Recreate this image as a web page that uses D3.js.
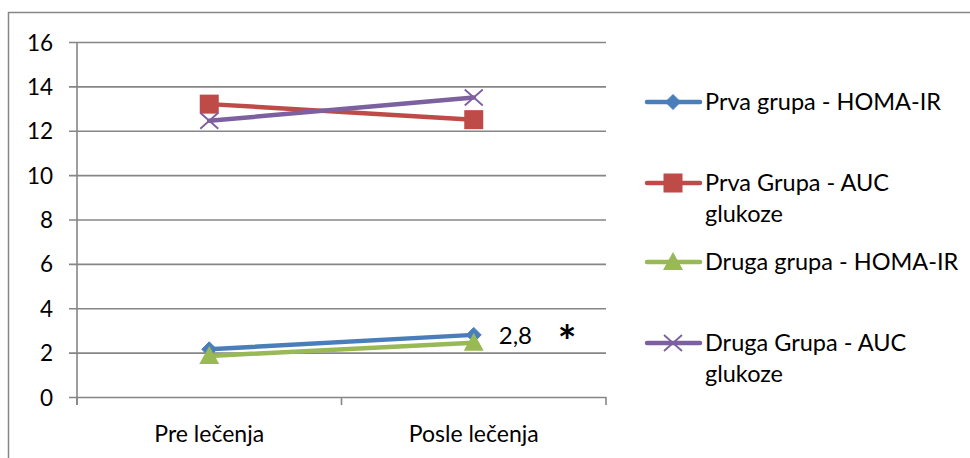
<!DOCTYPE html>
<html>
<head>
<meta charset="utf-8">
<script src="https://cdn.jsdelivr.net/npm/d3@7"></script>
<style>
  html, body { margin: 0; padding: 0; background: #fff; }
  svg { display: block; }
  text { font-family: Lato, "Open Sans", sans-serif; fill: #000; }
</style>
</head>
<body>
<svg id="chart" width="970" height="458"></svg>
<script>
// Categories and series
const categories = ["Pre lečenja", "Posle lečenja"];
const seriesNames = [
  "Prva grupa - HOMA-IR",
  "Prva Grupa - AUC glukoze",
  "Druga grupa - HOMA-IR",
  "Druga Grupa - AUC glukoze"
];
const prvaHoma = [2.15, 2.8];
const prvaAuc = [13.2, 12.5];
const drugaHoma = [1.85, 2.45];
const drugaAuc = [12.45, 13.5];
const yTicks = [0, 2, 4, 6, 8, 10, 12, 14, 16];

const series = [
  { name: seriesNames[0], values: prvaHoma, color: "#4A7EBB", marker: "diamond", legendLines: ["Prva grupa - HOMA-IR"] },
  { name: seriesNames[1], values: prvaAuc, color: "#BE4B48", marker: "square", legendLines: ["Prva Grupa - AUC", "glukoze"] },
  { name: seriesNames[2], values: drugaHoma, color: "#98B954", marker: "triangle", legendLines: ["Druga grupa - HOMA-IR"] },
  { name: seriesNames[3], values: drugaAuc, color: "#7D60A0", marker: "cross", legendLines: ["Druga Grupa - AUC", "glukoze"] }
];

const svg = d3.select("#chart");
const grid = "#868686";

// Outer frame (top and left edges visible)
svg.append("path")
  .attr("d", "M8.5,458 L8.5,12.5 L970,12.5")
  .attr("fill", "none").attr("stroke", grid).attr("stroke-width", 1.5);

const plot = { left: 77, right: 606, top: 42, bottom: 397 };

const x = d3.scaleBand().domain(categories).range([plot.left, plot.right]);
const y = d3.scaleLinear().domain([0, 16]).range([plot.bottom, plot.top]);

// Horizontal gridlines with left tick stubs
const yAxis = d3.axisLeft(y).tickValues(yTicks).tickSize(-(plot.right - plot.left)).tickFormat(d3.format("d"));
const gy = svg.append("g").attr("transform", `translate(${plot.left},0)`).call(yAxis);
gy.select(".domain").remove();
gy.selectAll(".tick line").attr("stroke", grid).attr("stroke-width", 1.6).attr("x1", -8);
gy.selectAll(".tick text").attr("font-size", 22.5).attr("x", -24).attr("dy", "0.36em");

// Vertical axis line
svg.append("line")
  .attr("x1", plot.left).attr("x2", plot.left)
  .attr("y1", plot.top).attr("y2", plot.bottom + 8)
  .attr("stroke", grid).attr("stroke-width", 1.6);

// Category axis with tick marks at band edges
const edges = [plot.left, x(categories[1]), plot.right];
svg.selectAll(".xtick").data(edges).enter().append("line")
  .attr("x1", d => d).attr("x2", d => d)
  .attr("y1", plot.bottom).attr("y2", plot.bottom + 8)
  .attr("stroke", grid).attr("stroke-width", 1.6);

svg.selectAll(".xlabel").data(categories).enter().append("text")
  .attr("x", d => x(d) + x.bandwidth() / 2)
  .attr("y", 442)
  .attr("text-anchor", "middle")
  .attr("font-size", 23)
  .text(d => d);

function drawMarker(g, type, color, cx, cy) {
  if (type === "diamond") {
    g.append("path").attr("d", `M${cx},${cy - 7.5} L${cx + 7.5},${cy} L${cx},${cy + 7.5} L${cx - 7.5},${cy} Z`)
      .attr("fill", color).attr("stroke", color).attr("stroke-width", 1);
  } else if (type === "square") {
    g.append("rect").attr("x", cx - 9.5).attr("y", cy - 9.5).attr("width", 19).attr("height", 19)
      .attr("fill", color);
  } else if (type === "triangle") {
    g.append("path").attr("d", `M${cx},${cy - 10} L${cx + 10},${cy + 8} L${cx - 10},${cy + 8} Z`)
      .attr("fill", color);
  } else if (type === "cross") {
    g.append("path").attr("d", `M${cx - 9},${cy - 8} L${cx + 9},${cy + 8} M${cx + 9},${cy - 8} L${cx - 9},${cy + 8}`)
      .attr("stroke", color).attr("stroke-width", 1.8).attr("fill", "none");
  }
}

const line = d3.line()
  .x((d, i) => x(categories[i]) + x.bandwidth() / 2)
  .y(d => y(d));

// Lines and markers
series.forEach(s => {
  const g = svg.append("g");
  g.append("path").datum(s.values).attr("d", line)
    .attr("fill", "none").attr("stroke", s.color).attr("stroke-width", 4.5).attr("stroke-linecap", "round");
  s.values.forEach((v, i) => {
    drawMarker(g, s.marker, s.color, x(categories[i]) + x.bandwidth() / 2, y(v));
  });
});

// Value annotation on the first group's HOMA-IR after treatment
const annX = x(categories[1]) + x.bandwidth() / 2;
svg.append("text")
  .attr("x", annX + 25).attr("y", y(prvaHoma[1]) + 9)
  .attr("font-size", 24)
  .text(d3.format(".1f")(prvaHoma[1]).replace(".", ","));
svg.append("text")
  .attr("x", annX + 84).attr("y", y(prvaHoma[1]) + 22)
  .attr("font-size", 44).attr("font-weight", "bold")
  .text("*");

// Legend
const legendY = [102, 183, 262, 343];
const lg = svg.append("g");
series.forEach((s, i) => {
  const ly = legendY[i];
  lg.append("line").attr("x1", 647).attr("x2", 700).attr("y1", ly).attr("y2", ly)
    .attr("stroke", s.color).attr("stroke-width", 4.5).attr("stroke-linecap", "round");
  drawMarker(lg, s.marker, s.color, 673, ly);
  s.legendLines.forEach((t, k) => {
    lg.append("text").attr("x", 705).attr("y", ly + 8 + k * 31)
      .attr("font-size", 23.5).text(t);
  });
});
</script>
</body>
</html>
